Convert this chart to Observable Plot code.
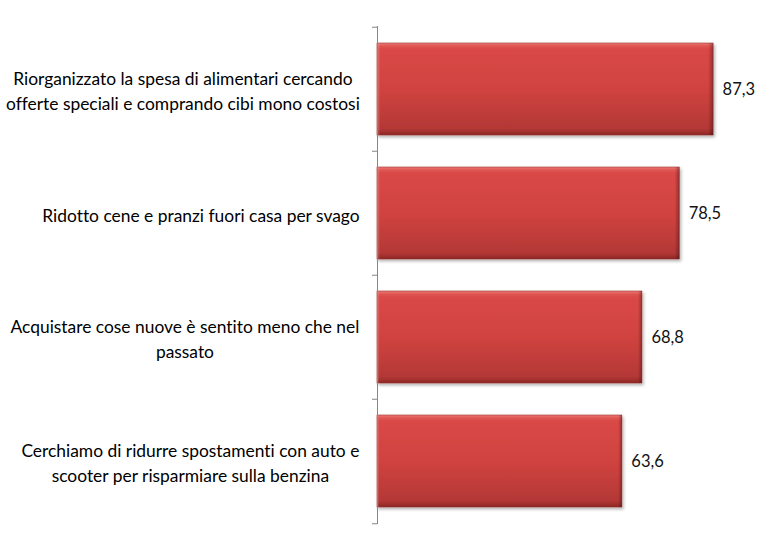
<!DOCTYPE html>
<html><head><meta charset="utf-8">
<script src="https://cdn.jsdelivr.net/npm/d3@7"></script>
<script src="https://cdn.jsdelivr.net/npm/@observablehq/plot@0.6"></script>
<style>html,body{margin:0;padding:0;background:#fff}
svg text{font-variant-ligatures:none;font-feature-settings:"liga" 0,"clig" 0}</style>
</head><body><div id="chart"></div>
<script>
const categories = [
  "Riorganizzato la spesa di alimentari cercando\nofferte speciali e comprando cibi mono costosi",
  "Ridotto cene e pranzi fuori casa per svago",
  "Acquistare cose nuove è sentito meno che nel\npassato",
  "Cerchiamo di ridurre spostamenti con auto e\nscooter per risparmiare sulla benzina"
];
const values = [87.3, 78.5, 68.8, 63.6];
const xDomain = [0, 100];

const data = categories.map((c, i) => ({category: c, value: values[i]}));

const W = 765, H = 543, mTop = 26, mBottom = 19, mLeft = 377, mRight = 3;
const band = (H - mTop - mBottom) / categories.length;
const labelSize = 17.4, fam = "Lato, 'Open Sans', sans-serif";
const ctx = document.createElement("canvas").getContext("2d");
ctx.font = `${labelSize}px Lato`;
const blockW = c => Math.max(...c.split("\n").map(l => ctx.measureText(l).width));
const fmt = v => v.toFixed(1).replace(".", ",");

const NS = "http://www.w3.org/2000/svg";
function defs() {
  const d = document.createElementNS(NS, "defs");
  d.innerHTML = `
  <linearGradient id="barGrad" x1="0" y1="0" x2="0" y2="1">
    <stop offset="0" stop-color="#ee7d7a"/>
    <stop offset="0.03" stop-color="#e05855"/>
    <stop offset="0.07" stop-color="#d94846"/>
    <stop offset="0.5" stop-color="#d04340"/>
    <stop offset="0.93" stop-color="#b43836"/>
    <stop offset="0.97" stop-color="#a02f2d"/>
    <stop offset="1" stop-color="#862624"/>
  </linearGradient>
  <linearGradient id="bevelX" x1="0" y1="0" x2="1" y2="0">
    <stop offset="0" stop-color="#fff" stop-opacity="0.25"/>
    <stop offset="0.01" stop-color="#fff" stop-opacity="0"/>
    <stop offset="0.985" stop-color="#000" stop-opacity="0"/>
    <stop offset="1" stop-color="#000" stop-opacity="0.3"/>
  </linearGradient>
  <filter id="shadow" x="-5%" y="-10%" width="115%" height="130%">
    <feDropShadow dx="1.5" dy="2" stdDeviation="1.5" flood-color="#000" flood-opacity="0.3"/>
  </filter>`;
  return d;
}

const labelMarks = categories.map(c => Plot.text([c], {
  y: d => d, text: d => d, frameAnchor: "left",
  textAnchor: "middle", lineAnchor: "middle", lineHeight: 25 / labelSize,
  dx: -(18 + blockW(c) / 2), fontSize: labelSize, fontFamily: fam, fill: "#000"
}));

const svg = Plot.plot({
  width: W, height: H,
  marginTop: mTop, marginBottom: mBottom, marginLeft: mLeft, marginRight: mRight,
  x: {domain: xDomain, axis: null},
  y: {domain: categories, padding: 0, axis: null},
  style: {background: "#fff", overflow: "visible"},
  marks: [
    defs,
    Plot.barX(data, {x: "value", y: "category", insetTop: 16, insetBottom: 16, fill: "url(#barGrad)", stroke: "#9a2f2c", strokeWidth: 0.6}),
    Plot.barX(data, {x: "value", y: "category", insetTop: 16, insetBottom: 16, fill: "url(#bevelX)"}),
    Plot.ruleX([0], {stroke: "#868686"}),
    Plot.ruleY(categories, {y: d => d, x1: 0, x2: 0, insetLeft: -5, dy: -band / 2, stroke: "#868686"}),
    Plot.ruleY([categories[categories.length - 1]], {y: d => d, x1: 0, x2: 0, insetLeft: -5, dy: band / 2, stroke: "#868686"}),
    Plot.text(data, {x: "value", y: "category", text: d => fmt(d.value), dx: 9, textAnchor: "start", fontSize: 16.5, fontFamily: fam, fill: "#111"}),
    ...labelMarks
  ]
});
const barG = svg.querySelector('g[aria-label="bar"]');
if (barG) barG.setAttribute("filter", "url(#shadow)");
document.getElementById("chart").appendChild(svg);
</script>
</body></html>
